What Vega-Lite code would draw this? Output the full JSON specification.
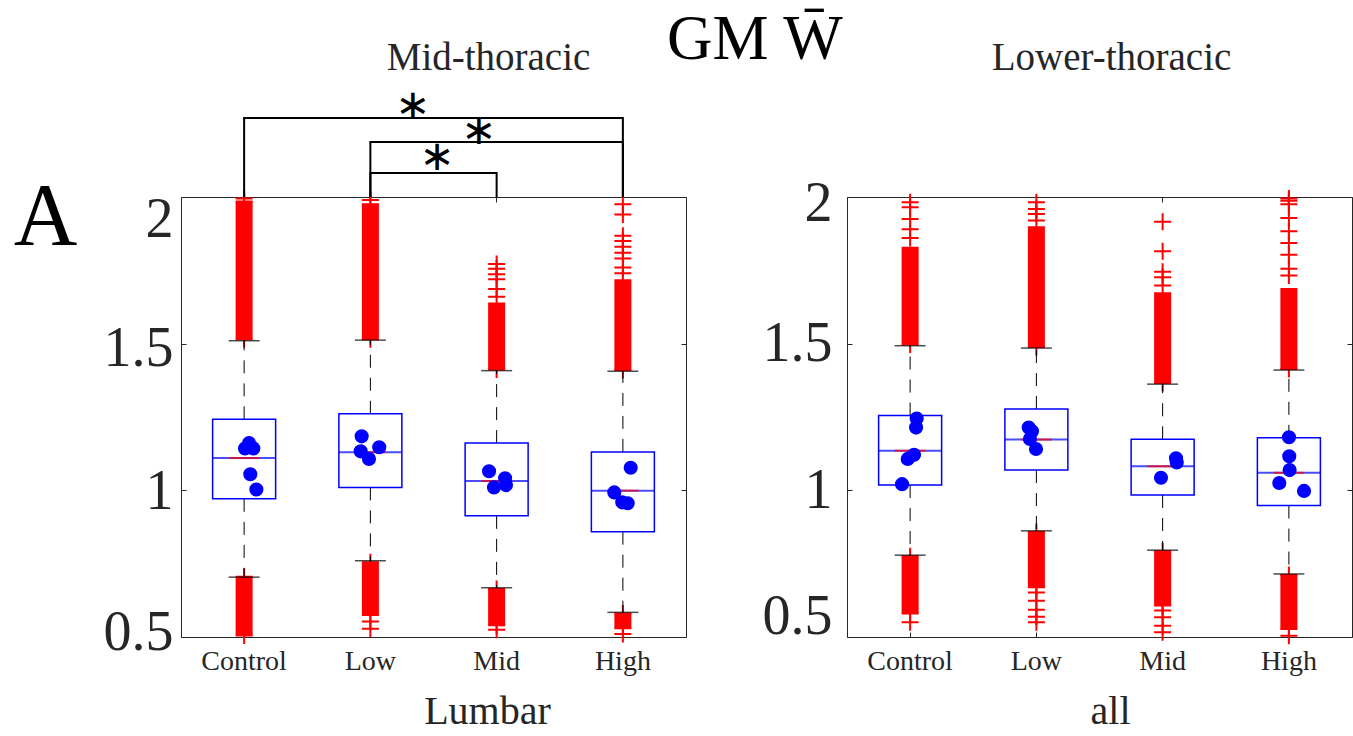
{
  "$schema": "https://vega.github.io/schema/vega-lite/v6.json",
  "background": "white",
  "padding": {"left": 12, "top": 8, "right": 0, "bottom": 0},
  "bounds": "flush",
  "spacing": 161,
  "title": {"text": "GM W\u0304", "font": "Liberation Serif", "fontSize": 63, "fontWeight": "normal", "color": "#000000", "anchor": "start", "frame": "group", "dx": 486, "baseline": "alphabetic", "offset": -84},
  "config": {
    "view": {"stroke": "#262626", "strokeWidth": 1},
    "axis": {"domain": false, "grid": false, "tickColor": "#262626", "tickWidth": 1, "labelFont": "Liberation Serif", "titleFont": "Liberation Serif", "labelColor": "#262626", "titleColor": "#262626", "titleFontWeight": "normal"}
  },
  "datasets": {
    "boxL": [
      {"cat": "Control", "q1": 0.971, "q3": 1.242, "med": 1.11, "wlo": 0.704, "whi": 1.51},
      {"cat": "Low", "q1": 1.01, "q3": 1.261, "med": 1.13, "wlo": 0.76, "whi": 1.512},
      {"cat": "Mid", "q1": 0.913, "q3": 1.161, "med": 1.032, "wlo": 0.668, "whi": 1.408},
      {"cat": "High", "q1": 0.859, "q3": 1.131, "med": 0.999, "wlo": 0.584, "whi": 1.406}
    ],
    "boxR": [
      {"cat": "Control", "q1": 1.018, "q3": 1.255, "med": 1.135, "wlo": 0.779, "whi": 1.493},
      {"cat": "Low", "q1": 1.069, "q3": 1.277, "med": 1.173, "wlo": 0.862, "whi": 1.485},
      {"cat": "Mid", "q1": 0.984, "q3": 1.174, "med": 1.082, "wlo": 0.796, "whi": 1.362},
      {"cat": "High", "q1": 0.948, "q3": 1.179, "med": 1.06, "wlo": 0.715, "whi": 1.41}
    ],
    "denseL": [
      {"cat": "Control", "lo": 1.515, "hi": 1.985},
      {"cat": "Control", "lo": 0.505, "hi": 0.705},
      {"cat": "Low", "lo": 1.515, "hi": 1.975},
      {"cat": "Low", "lo": 0.575, "hi": 0.755},
      {"cat": "Mid", "lo": 1.412, "hi": 1.64},
      {"cat": "Mid", "lo": 0.54, "hi": 0.664},
      {"cat": "High", "lo": 1.41, "hi": 1.72},
      {"cat": "High", "lo": 0.53, "hi": 0.58}
    ],
    "denseR": [
      {"cat": "Control", "lo": 1.497, "hi": 1.83},
      {"cat": "Control", "lo": 0.58, "hi": 0.775},
      {"cat": "Low", "lo": 1.489, "hi": 1.9},
      {"cat": "Low", "lo": 0.67, "hi": 0.858},
      {"cat": "Mid", "lo": 1.366, "hi": 1.675},
      {"cat": "Mid", "lo": 0.607, "hi": 0.792},
      {"cat": "High", "lo": 1.414, "hi": 1.69},
      {"cat": "High", "lo": 0.527, "hi": 0.711}
    ],
    "outL": [
      {"cat": "Control", "v": 1.515}, {"cat": "Control", "v": 1.985}, {"cat": "Control", "v": 1.995},
      {"cat": "Control", "v": 0.505}, {"cat": "Control", "v": 0.705},
      {"cat": "Low", "v": 1.515}, {"cat": "Low", "v": 1.975}, {"cat": "Low", "v": 1.99},
      {"cat": "Low", "v": 0.755}, {"cat": "Low", "v": 0.575}, {"cat": "Low", "v": 0.553}, {"cat": "Low", "v": 0.528},
      {"cat": "Mid", "v": 1.412}, {"cat": "Mid", "v": 1.66}, {"cat": "Mid", "v": 1.686}, {"cat": "Mid", "v": 1.72}, {"cat": "Mid", "v": 1.737}, {"cat": "Mid", "v": 1.755}, {"cat": "Mid", "v": 1.772},
      {"cat": "Mid", "v": 0.664}, {"cat": "Mid", "v": 0.54}, {"cat": "Mid", "v": 0.525},
      {"cat": "High", "v": 1.41}, {"cat": "High", "v": 1.74}, {"cat": "High", "v": 1.76}, {"cat": "High", "v": 1.79}, {"cat": "High", "v": 1.81}, {"cat": "High", "v": 1.83}, {"cat": "High", "v": 1.85}, {"cat": "High", "v": 1.868}, {"cat": "High", "v": 1.94}, {"cat": "High", "v": 1.975},
      {"cat": "High", "v": 0.58}, {"cat": "High", "v": 0.53}, {"cat": "High", "v": 0.51}
    ],
    "outR": [
      {"cat": "Control", "v": 1.497}, {"cat": "Control", "v": 1.86}, {"cat": "Control", "v": 1.89}, {"cat": "Control", "v": 1.925}, {"cat": "Control", "v": 1.965}, {"cat": "Control", "v": 1.982},
      {"cat": "Control", "v": 0.775}, {"cat": "Control", "v": 0.58}, {"cat": "Control", "v": 0.55},
      {"cat": "Low", "v": 1.489}, {"cat": "Low", "v": 1.92}, {"cat": "Low", "v": 1.942}, {"cat": "Low", "v": 1.959}, {"cat": "Low", "v": 1.982},
      {"cat": "Low", "v": 0.858}, {"cat": "Low", "v": 0.67}, {"cat": "Low", "v": 0.652}, {"cat": "Low", "v": 0.624}, {"cat": "Low", "v": 0.593}, {"cat": "Low", "v": 0.569}, {"cat": "Low", "v": 0.55},
      {"cat": "Mid", "v": 1.366}, {"cat": "Mid", "v": 1.698}, {"cat": "Mid", "v": 1.726}, {"cat": "Mid", "v": 1.745}, {"cat": "Mid", "v": 1.815}, {"cat": "Mid", "v": 1.916},
      {"cat": "Mid", "v": 0.792}, {"cat": "Mid", "v": 0.607}, {"cat": "Mid", "v": 0.59}, {"cat": "Mid", "v": 0.567}, {"cat": "Mid", "v": 0.538}, {"cat": "Mid", "v": 0.516},
      {"cat": "High", "v": 1.414}, {"cat": "High", "v": 1.732}, {"cat": "High", "v": 1.755}, {"cat": "High", "v": 1.803}, {"cat": "High", "v": 1.843}, {"cat": "High", "v": 1.883}, {"cat": "High", "v": 1.928}, {"cat": "High", "v": 1.975}, {"cat": "High", "v": 1.987}, {"cat": "High", "v": 1.995},
      {"cat": "High", "v": 0.711}, {"cat": "High", "v": 0.527}, {"cat": "High", "v": 0.504}
    ],
    "ptsL": [
      {"cat": "Control", "v": 1.161, "jit": 0.039}, {"cat": "Control", "v": 1.143, "jit": 0.007}, {"cat": "Control", "v": 1.143, "jit": 0.073}, {"cat": "Control", "v": 1.055, "jit": 0.049}, {"cat": "Control", "v": 1.003, "jit": 0.097},
      {"cat": "Low", "v": 1.184, "jit": -0.069}, {"cat": "Low", "v": 1.133, "jit": -0.077}, {"cat": "Low", "v": 1.107, "jit": -0.011}, {"cat": "Low", "v": 1.147, "jit": 0.07},
      {"cat": "Mid", "v": 1.065, "jit": -0.06}, {"cat": "Mid", "v": 1.041, "jit": 0.067}, {"cat": "Mid", "v": 1.018, "jit": 0.074}, {"cat": "Mid", "v": 1.01, "jit": -0.021},
      {"cat": "High", "v": 1.077, "jit": 0.062}, {"cat": "High", "v": 0.993, "jit": -0.068}, {"cat": "High", "v": 0.959, "jit": -0.005}, {"cat": "High", "v": 0.956, "jit": 0.038}
    ],
    "ptsR": [
      {"cat": "Control", "v": 1.245, "jit": 0.052}, {"cat": "Control", "v": 1.214, "jit": 0.047}, {"cat": "Control", "v": 1.121, "jit": 0.031}, {"cat": "Control", "v": 1.107, "jit": -0.019}, {"cat": "Control", "v": 1.021, "jit": -0.064},
      {"cat": "Low", "v": 1.214, "jit": -0.061}, {"cat": "Low", "v": 1.201, "jit": -0.035}, {"cat": "Low", "v": 1.175, "jit": -0.051}, {"cat": "Low", "v": 1.141, "jit": -0.003},
      {"cat": "Mid", "v": 1.109, "jit": 0.106}, {"cat": "Mid", "v": 1.095, "jit": 0.112}, {"cat": "Mid", "v": 1.043, "jit": -0.013},
      {"cat": "High", "v": 1.181, "jit": 0.001}, {"cat": "High", "v": 1.116, "jit": 0.003}, {"cat": "High", "v": 1.069, "jit": 0.006}, {"cat": "High", "v": 1.025, "jit": -0.076}, {"cat": "High", "v": 0.998, "jit": 0.12}
    ],
    "brackets": [
      {"id": "a", "seq": 1, "cat": "Control", "y": 2.0}, {"id": "a", "seq": 2, "cat": "Control", "y": 2.269}, {"id": "a", "seq": 3, "cat": "High", "y": 2.269}, {"id": "a", "seq": 4, "cat": "High", "y": 2.0},
      {"id": "b", "seq": 1, "cat": "Low", "y": 2.0}, {"id": "b", "seq": 2, "cat": "Low", "y": 2.1875}, {"id": "b", "seq": 3, "cat": "High", "y": 2.1875}, {"id": "b", "seq": 4, "cat": "High", "y": 2.0},
      {"id": "c", "seq": 1, "cat": "Low", "y": 2.0}, {"id": "c", "seq": 2, "cat": "Low", "y": 2.082}, {"id": "c", "seq": 3, "cat": "Mid", "y": 2.082}, {"id": "c", "seq": 4, "cat": "Mid", "y": 2.0}
    ],
    "stars": [
      {"cat": "Low", "y": 2.31, "jit": 0.337, "s": "\u2217"},
      {"cat": "Low", "y": 2.225, "jit": 0.86, "s": "\u2217"},
      {"cat": "Low", "y": 2.136, "jit": 0.528, "s": "\u2217"}
    ]
  },
  "hconcat": [
    {
      "width": 505, "height": 440,
      "resolve": {"axis": {"x": "independent", "y": "independent"}},
      "layer": [
        {"data": {"name": "denseL"}, "mark": {"type": "bar", "size": 17, "color": "#ff0000"},
         "encoding": {
           "x": {"field": "cat", "type": "nominal", "scale": {"type": "band", "domain": ["Control", "Low", "Mid", "High"], "paddingInner": 0, "paddingOuter": 0},
                 "axis": {"orient": "bottom", "labelAngle": 0, "labelFontSize": 28, "tickSize": -5, "labelPadding": 15, "title": "Lumbar", "titleFontSize": 40, "titleX": 306, "titleY": 86, "titleAlign": "center", "titleBaseline": "alphabetic"}},
           "y": {"field": "lo", "type": "quantitative", "scale": {"domain": [0.5, 2], "nice": false, "zero": false},
                 "axis": {"orient": "left", "values": [0.5, 1, 1.5, 2], "labelExpr": "datum.value", "labelFontSize": 56, "tickSize": -5, "labelPadding": 13,
                          "labelOffset": {"condition": [{"test": "datum.value == 2", "value": 22}, {"test": "datum.value == 0.5", "value": -5}, {"test": "datum.value == 1.5", "value": 5}], "value": 1},
                          "title": "A", "titleAngle": 0, "titleFontSize": 88, "titleColor": "#000000", "titleX": -136, "titleY": 46, "titleAlign": "center", "titleBaseline": "alphabetic"}},
           "y2": {"field": "hi"}
         }},
        {"data": {"name": "outL"}, "mark": {"type": "point", "shape": "M-1,0L1,0M0,-1L0,1", "size": 289, "filled": false, "stroke": "#ff0000", "strokeWidth": 2, "opacity": 1},
         "encoding": {
           "x": {"field": "cat", "type": "nominal", "scale": {"type": "band", "domain": ["Control", "Low", "Mid", "High"], "paddingInner": 0, "paddingOuter": 0}, "axis": null},
           "y": {"field": "v", "type": "quantitative", "scale": {"domain": [0.5, 2], "nice": false, "zero": false}, "axis": null}
         }},
        {"data": {"name": "boxL"}, "mark": {"type": "rule", "color": "#000000", "strokeWidth": 1, "strokeDash": [13, 10]},
         "encoding": {
           "x": {"field": "cat", "type": "nominal", "scale": {"type": "band", "domain": ["Control", "Low", "Mid", "High"], "paddingInner": 0, "paddingOuter": 0}, "axis": null},
           "y": {"field": "q3", "type": "quantitative", "scale": {"domain": [0.5, 2], "nice": false, "zero": false}, "axis": null},
           "y2": {"field": "whi"}
         }},
        {"data": {"name": "boxL"}, "mark": {"type": "rule", "color": "#000000", "strokeWidth": 1, "strokeDash": [13, 10]},
         "encoding": {
           "x": {"field": "cat", "type": "nominal", "scale": {"type": "band", "domain": ["Control", "Low", "Mid", "High"], "paddingInner": 0, "paddingOuter": 0}, "axis": null},
           "y": {"field": "q1", "type": "quantitative", "scale": {"domain": [0.5, 2], "nice": false, "zero": false}, "axis": null},
           "y2": {"field": "wlo"}
         }},
        {"data": {"name": "boxL"}, "mark": {"type": "tick", "color": "#000000", "size": 31, "thickness": 1.5},
         "encoding": {
           "x": {"field": "cat", "type": "nominal", "scale": {"type": "band", "domain": ["Control", "Low", "Mid", "High"], "paddingInner": 0, "paddingOuter": 0}, "axis": null},
           "y": {"field": "whi", "type": "quantitative", "scale": {"domain": [0.5, 2], "nice": false, "zero": false}, "axis": null}
         }},
        {"data": {"name": "boxL"}, "mark": {"type": "tick", "color": "#000000", "size": 31, "thickness": 1.5},
         "encoding": {
           "x": {"field": "cat", "type": "nominal", "scale": {"type": "band", "domain": ["Control", "Low", "Mid", "High"], "paddingInner": 0, "paddingOuter": 0}, "axis": null},
           "y": {"field": "wlo", "type": "quantitative", "scale": {"domain": [0.5, 2], "nice": false, "zero": false}, "axis": null}
         }},
        {"data": {"name": "boxL"}, "mark": {"type": "bar", "size": 63, "fill": "transparent", "stroke": "#0000ff", "strokeWidth": 1.5},
         "encoding": {
           "x": {"field": "cat", "type": "nominal", "scale": {"type": "band", "domain": ["Control", "Low", "Mid", "High"], "paddingInner": 0, "paddingOuter": 0},
                 "axis": {"orient": "top", "labels": false, "tickSize": -5, "title": "Mid-thoracic", "titleFontSize": 39, "titleX": 307, "titleY": -128, "titleAlign": "center", "titleBaseline": "alphabetic"}},
           "y": {"field": "q1", "type": "quantitative", "scale": {"domain": [0.5, 2], "nice": false, "zero": false},
                 "axis": {"orient": "right", "values": [0.5, 1, 1.5, 2], "labels": false, "tickSize": -5, "title": null}},
           "y2": {"field": "q3"}
         }},
        {"data": {"name": "boxL"}, "mark": {"type": "tick", "color": "#0000ff", "size": 63, "thickness": 2},
         "encoding": {
           "x": {"field": "cat", "type": "nominal", "scale": {"type": "band", "domain": ["Control", "Low", "Mid", "High"], "paddingInner": 0, "paddingOuter": 0}, "axis": null},
           "y": {"field": "med", "type": "quantitative", "scale": {"domain": [0.5, 2], "nice": false, "zero": false}, "axis": null}
         }},
        {"data": {"name": "boxL"}, "mark": {"type": "tick", "color": "#ff0000", "size": 31, "thickness": 2},
         "encoding": {
           "x": {"field": "cat", "type": "nominal", "scale": {"type": "band", "domain": ["Control", "Low", "Mid", "High"], "paddingInner": 0, "paddingOuter": 0}, "axis": null},
           "y": {"field": "med", "type": "quantitative", "scale": {"domain": [0.5, 2], "nice": false, "zero": false}, "axis": null}
         }},
        {"data": {"name": "ptsL"}, "mark": {"type": "point", "shape": "circle", "size": 200, "filled": true, "color": "#0000ff", "opacity": 1},
         "encoding": {
           "x": {"field": "cat", "type": "nominal", "scale": {"type": "band", "domain": ["Control", "Low", "Mid", "High"], "paddingInner": 0, "paddingOuter": 0}, "axis": null},
           "xOffset": {"field": "jit", "type": "quantitative", "scale": {"domain": [-0.5, 0.5]}},
           "y": {"field": "v", "type": "quantitative", "scale": {"domain": [0.5, 2], "nice": false, "zero": false}, "axis": null}
         }},
        {"data": {"name": "brackets"}, "mark": {"type": "line", "color": "#000000", "strokeWidth": 2},
         "encoding": {
           "x": {"field": "cat", "type": "nominal", "scale": {"type": "band", "domain": ["Control", "Low", "Mid", "High"], "paddingInner": 0, "paddingOuter": 0}, "axis": null},
           "y": {"field": "y", "type": "quantitative", "scale": {"domain": [0.5, 2], "nice": false, "zero": false}, "axis": null},
           "detail": {"field": "id"},
           "order": {"field": "seq", "type": "quantitative"}
         }},
        {"data": {"name": "stars"}, "mark": {"type": "text", "font": "DejaVu Sans", "fontSize": 42, "color": "#000000", "align": "center", "baseline": "middle"},
         "encoding": {
           "x": {"field": "cat", "type": "nominal", "scale": {"type": "band", "domain": ["Control", "Low", "Mid", "High"], "paddingInner": 0, "paddingOuter": 0}, "axis": null},
           "xOffset": {"field": "jit", "type": "quantitative", "scale": {"domain": [-0.5, 0.5]}},
           "y": {"field": "y", "type": "quantitative", "scale": {"domain": [0.5, 2], "nice": false, "zero": false}, "axis": null},
           "text": {"field": "s"}
         }}
      ]
    },
    {
      "width": 505, "height": 440,
      "resolve": {"axis": {"x": "independent", "y": "independent"}},
      "layer": [
        {"data": {"name": "denseR"}, "mark": {"type": "bar", "size": 17, "color": "#ff0000"},
         "encoding": {
           "x": {"field": "cat", "type": "nominal", "scale": {"type": "band", "domain": ["Control", "Low", "Mid", "High"], "paddingInner": 0, "paddingOuter": 0},
                 "axis": {"orient": "bottom", "labelAngle": 0, "labelFontSize": 28, "tickSize": -5, "labelPadding": 15, "title": "all", "titleFontSize": 40, "titleX": 263, "titleY": 86, "titleAlign": "center", "titleBaseline": "alphabetic"}},
           "y": {"field": "lo", "type": "quantitative", "scale": {"domain": [0.5, 2], "nice": false, "zero": false},
                 "axis": {"orient": "left", "values": [0.5, 1, 1.5, 2], "labelExpr": "datum.value", "labelFontSize": 56, "tickSize": -5, "labelPadding": 20,
                          "labelOffset": {"condition": [{"test": "datum.value == 2", "value": 6}, {"test": "datum.value == 0.5", "value": -21}], "value": 0},
                          "title": null}},
           "y2": {"field": "hi"}
         }},
        {"data": {"name": "outR"}, "mark": {"type": "point", "shape": "M-1,0L1,0M0,-1L0,1", "size": 289, "filled": false, "stroke": "#ff0000", "strokeWidth": 2, "opacity": 1},
         "encoding": {
           "x": {"field": "cat", "type": "nominal", "scale": {"type": "band", "domain": ["Control", "Low", "Mid", "High"], "paddingInner": 0, "paddingOuter": 0}, "axis": null},
           "y": {"field": "v", "type": "quantitative", "scale": {"domain": [0.5, 2], "nice": false, "zero": false}, "axis": null}
         }},
        {"data": {"name": "boxR"}, "mark": {"type": "rule", "color": "#000000", "strokeWidth": 1, "strokeDash": [13, 10]},
         "encoding": {
           "x": {"field": "cat", "type": "nominal", "scale": {"type": "band", "domain": ["Control", "Low", "Mid", "High"], "paddingInner": 0, "paddingOuter": 0}, "axis": null},
           "y": {"field": "q3", "type": "quantitative", "scale": {"domain": [0.5, 2], "nice": false, "zero": false}, "axis": null},
           "y2": {"field": "whi"}
         }},
        {"data": {"name": "boxR"}, "mark": {"type": "rule", "color": "#000000", "strokeWidth": 1, "strokeDash": [13, 10]},
         "encoding": {
           "x": {"field": "cat", "type": "nominal", "scale": {"type": "band", "domain": ["Control", "Low", "Mid", "High"], "paddingInner": 0, "paddingOuter": 0}, "axis": null},
           "y": {"field": "q1", "type": "quantitative", "scale": {"domain": [0.5, 2], "nice": false, "zero": false}, "axis": null},
           "y2": {"field": "wlo"}
         }},
        {"data": {"name": "boxR"}, "mark": {"type": "tick", "color": "#000000", "size": 31, "thickness": 1.5},
         "encoding": {
           "x": {"field": "cat", "type": "nominal", "scale": {"type": "band", "domain": ["Control", "Low", "Mid", "High"], "paddingInner": 0, "paddingOuter": 0}, "axis": null},
           "y": {"field": "whi", "type": "quantitative", "scale": {"domain": [0.5, 2], "nice": false, "zero": false}, "axis": null}
         }},
        {"data": {"name": "boxR"}, "mark": {"type": "tick", "color": "#000000", "size": 31, "thickness": 1.5},
         "encoding": {
           "x": {"field": "cat", "type": "nominal", "scale": {"type": "band", "domain": ["Control", "Low", "Mid", "High"], "paddingInner": 0, "paddingOuter": 0}, "axis": null},
           "y": {"field": "wlo", "type": "quantitative", "scale": {"domain": [0.5, 2], "nice": false, "zero": false}, "axis": null}
         }},
        {"data": {"name": "boxR"}, "mark": {"type": "bar", "size": 63, "fill": "transparent", "stroke": "#0000ff", "strokeWidth": 1.5},
         "encoding": {
           "x": {"field": "cat", "type": "nominal", "scale": {"type": "band", "domain": ["Control", "Low", "Mid", "High"], "paddingInner": 0, "paddingOuter": 0},
                 "axis": {"orient": "top", "labels": false, "tickSize": -5, "title": "Lower-thoracic", "titleFontSize": 39, "titleX": 264, "titleY": -128, "titleAlign": "center", "titleBaseline": "alphabetic"}},
           "y": {"field": "q1", "type": "quantitative", "scale": {"domain": [0.5, 2], "nice": false, "zero": false},
                 "axis": {"orient": "right", "values": [0.5, 1, 1.5, 2], "labels": false, "tickSize": -5, "title": null}},
           "y2": {"field": "q3"}
         }},
        {"data": {"name": "boxR"}, "mark": {"type": "tick", "color": "#0000ff", "size": 63, "thickness": 2},
         "encoding": {
           "x": {"field": "cat", "type": "nominal", "scale": {"type": "band", "domain": ["Control", "Low", "Mid", "High"], "paddingInner": 0, "paddingOuter": 0}, "axis": null},
           "y": {"field": "med", "type": "quantitative", "scale": {"domain": [0.5, 2], "nice": false, "zero": false}, "axis": null}
         }},
        {"data": {"name": "boxR"}, "mark": {"type": "tick", "color": "#ff0000", "size": 31, "thickness": 2},
         "encoding": {
           "x": {"field": "cat", "type": "nominal", "scale": {"type": "band", "domain": ["Control", "Low", "Mid", "High"], "paddingInner": 0, "paddingOuter": 0}, "axis": null},
           "y": {"field": "med", "type": "quantitative", "scale": {"domain": [0.5, 2], "nice": false, "zero": false}, "axis": null}
         }},
        {"data": {"name": "ptsR"}, "mark": {"type": "point", "shape": "circle", "size": 200, "filled": true, "color": "#0000ff", "opacity": 1},
         "encoding": {
           "x": {"field": "cat", "type": "nominal", "scale": {"type": "band", "domain": ["Control", "Low", "Mid", "High"], "paddingInner": 0, "paddingOuter": 0}, "axis": null},
           "xOffset": {"field": "jit", "type": "quantitative", "scale": {"domain": [-0.5, 0.5]}},
           "y": {"field": "v", "type": "quantitative", "scale": {"domain": [0.5, 2], "nice": false, "zero": false}, "axis": null}
         }}
      ]
    }
  ]
}
